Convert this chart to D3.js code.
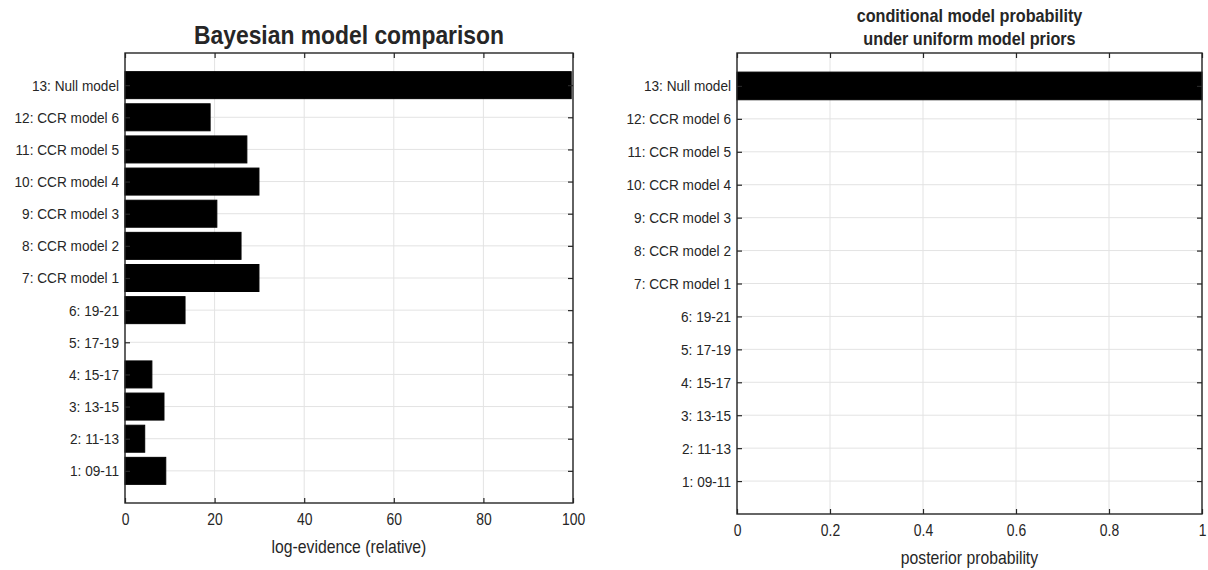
<!DOCTYPE html>
<html><head><meta charset="utf-8">
<script src="https://cdn.jsdelivr.net/npm/d3@7"></script>
<style>
body{margin:0;background:#fff;}
text{font-family:"Liberation Sans",Arial,sans-serif;fill:#262626;}
</style></head>
<body><svg id="c" width="1208" height="570"></svg>
<script>
const categories = ["1: 09-11","2: 11-13","3: 13-15","4: 15-17","5: 17-19","6: 19-21",
  "7: CCR model 1","8: CCR model 2","9: CCR model 3","10: CCR model 4","11: CCR model 5","12: CCR model 6","13: Null model"];
const logEvidence = [9.1, 4.4, 8.7, 6.0, 0, 13.4, 29.9, 25.9, 20.5, 29.9, 27.2, 19.0, 99.6];
const posterior = [0,0,0,0,0,0,0,0,0,0,0,0,1];
const leftTicks = [0,20,40,60,80,100];
const rightTicks = [0,0.2,0.4,0.6,0.8,1];

const svg = d3.select("#c");

function narrow(sel, sx){
  sel.each(function(){
    const t = d3.select(this);
    const x = +t.attr("x") || 0;
    t.attr("x", x/sx).attr("transform", `scale(${sx},1)`);
  });
}

function panel(o){
  const g = svg.append("g");
  const x = d3.scaleLinear().domain(o.xdom).range([o.x0,o.x1]);
  const y = d3.scaleLinear().domain([0,14]).range([o.y0,o.y1]);
  const idx = categories.map((c,i)=>i+1);
  g.selectAll(".gx").data(o.ticks).enter().append("line")
    .attr("x1",d=>x(d)).attr("x2",d=>x(d)).attr("y1",o.y0).attr("y2",o.y1)
    .attr("stroke","#e3e3e3").attr("stroke-width",1);
  g.selectAll(".gy").data(idx).enter().append("line")
    .attr("x1",o.x0).attr("x2",o.x1).attr("y1",d=>y(d)).attr("y2",d=>y(d))
    .attr("stroke","#e3e3e3").attr("stroke-width",1);
  const bh = Math.abs(y(0)-y(1))*0.84;
  g.selectAll(".bar").data(o.vals).enter().append("rect")
    .attr("x",x(0)).attr("y",(d,i)=>y(i+1)-bh/2)
    .attr("width",d=>Math.max(0,x(d)-x(0))).attr("height",bh)
    .attr("fill","#000").attr("stroke",d=>d>0?"#000":"none").attr("stroke-width",1);
  const ax = g.append("g").attr("transform",`translate(0,${o.y0})`)
    .call(d3.axisBottom(x).tickValues(o.ticks).tickFormat(d=>d3.format("")(d)).tickSize(-5).tickPadding(10));
  const ay = g.append("g").attr("transform",`translate(${o.x0},0)`)
    .call(d3.axisLeft(y).tickValues(idx).tickFormat(d=>categories[d-1]).tickSize(-5).tickPadding(6));
  const axt = g.append("g").attr("transform",`translate(0,${o.y1})`)
    .call(d3.axisTop(x).tickValues(o.ticks).tickFormat("").tickSize(-5));
  const ayr = g.append("g").attr("transform",`translate(${o.x1},0)`)
    .call(d3.axisRight(y).tickValues(idx).tickFormat("").tickSize(-5));
  [ax,ay,axt,ayr].forEach(a=>{
    a.select(".domain").remove();
    a.selectAll(".tick line").attr("stroke","#262626").attr("stroke-width",1.2);
    a.selectAll("text").attr("fill","#333").style("font-family",'"Liberation Sans",Arial,sans-serif');
  });
  ax.selectAll("text").attr("font-size",17);
  narrow(ax.selectAll("text"), 0.82);
  ay.selectAll("text").attr("font-size",15.5);
  narrow(ay.selectAll("text"), 0.88);
  g.append("rect").attr("x",o.x0).attr("y",o.y1).attr("width",o.x1-o.x0).attr("height",o.y0-o.y1)
    .attr("fill","none").attr("stroke","#262626").attr("stroke-width",1.4);
  const xl = g.append("text").attr("x",(o.x0+o.x1)/2).attr("y",o.xlabY).attr("text-anchor","middle")
    .attr("font-size",17.5).attr("fill","#333").text(o.xlabel);
  narrow(xl, 0.9);
  o.title.forEach((t,i)=>{
    const tt = g.append("text").attr("x",(o.x0+o.x1)/2).attr("y",o.titleY[i]).attr("text-anchor","middle")
      .attr("font-size",o.titleSize).attr("font-weight","bold").attr("fill","#1a1a1a").text(t);
    narrow(tt, o.titleSx);
  });
}

panel({x0:125,x1:573,y0:503,y1:53,xdom:[0,100],ticks:leftTicks,vals:logEvidence,
  xlabel:"log-evidence (relative)",xlabY:553,title:["Bayesian model comparison"],titleY:[44],titleSize:26,titleSx:0.88});
panel({x0:737,x1:1202,y0:514,y1:53,xdom:[0,1],ticks:rightTicks,vals:posterior,
  xlabel:"posterior probability",xlabY:564,title:["conditional model probability","under uniform model priors"],titleY:[22,45],titleSize:18,titleSx:0.9});
</script></body></html>
